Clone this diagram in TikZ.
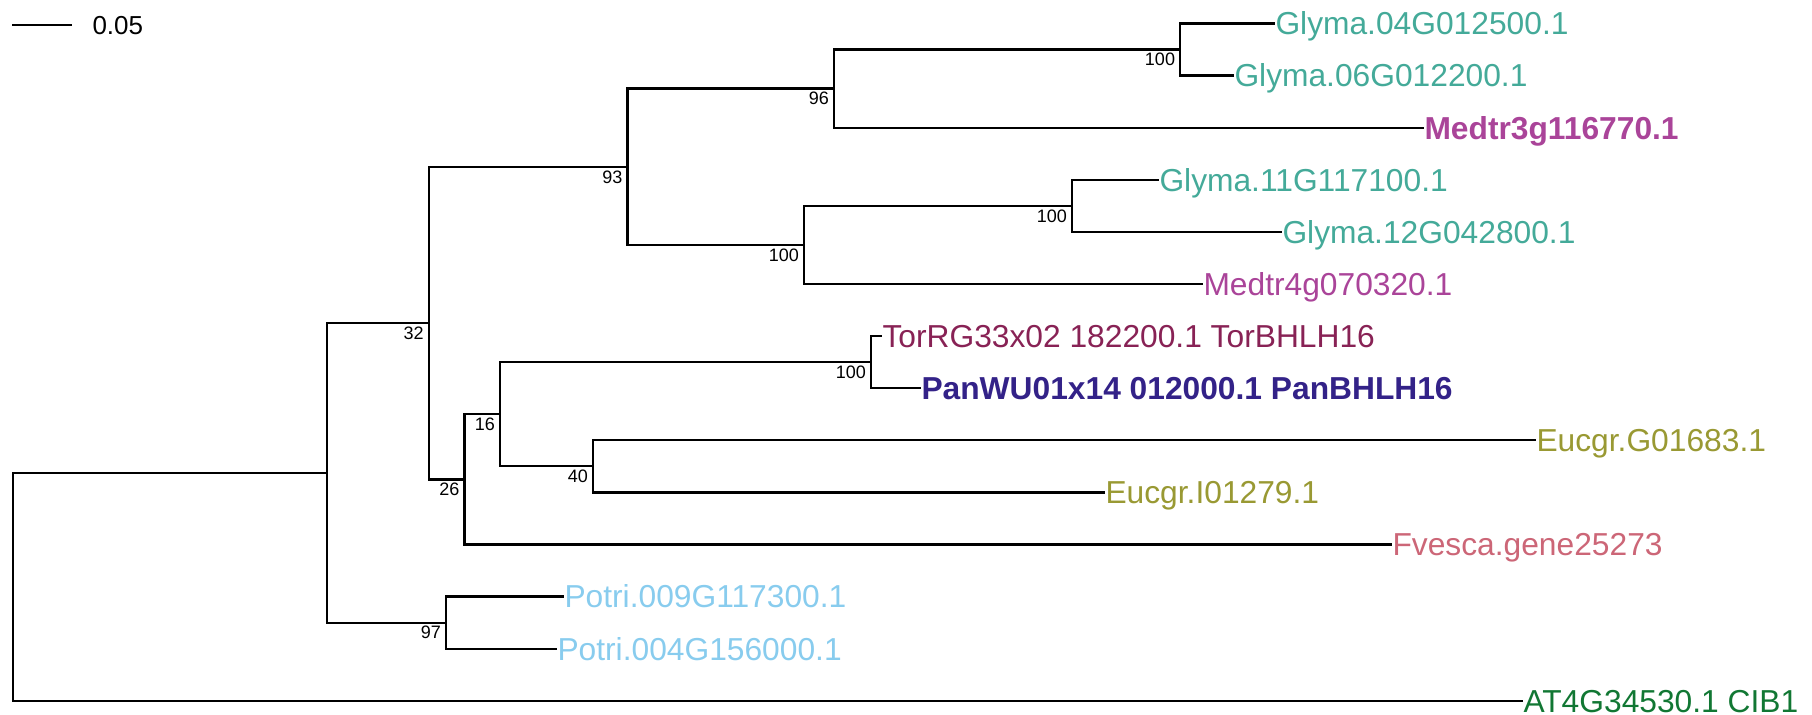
\documentclass[tikz,border=0pt]{standalone}
\usepackage{fontspec}
\setmainfont{Liberation Sans}
\definecolor{cGly}{HTML}{44AA99}
\definecolor{cMed}{HTML}{AA4499}
\definecolor{cTor}{HTML}{882255}
\definecolor{cPan}{HTML}{332288}
\definecolor{cEuc}{HTML}{999933}
\definecolor{cFve}{HTML}{CC6677}
\definecolor{cPot}{HTML}{88CCEE}
\definecolor{cAt}{HTML}{117733}
\begin{document}
\begin{tikzpicture}[x=0.4pt,y=-0.4pt,
  br/.style={line width=0.9pt, line join=miter},
  leaf/.style={anchor=west, inner sep=0pt, font=\fontsize{12.7}{14}\selectfont, text height=9.1pt, text depth=0pt},
  leafb/.style={leaf, font=\fontsize{12.7}{14}\selectfont\bfseries},
  bs/.style={anchor=north east, inner sep=0pt, font=\fontsize{7.2}{8}\selectfont, xshift=-1.8pt, yshift=-1.3pt},
  sc/.style={anchor=west, inner sep=0pt, font=\fontsize{10.4}{12}\selectfont, text height=7.45pt, text depth=0pt}
]
\useasboundingbox (0,0) rectangle (1812,714);
% scale bar
\coordinate (s0) at (12,25);
\coordinate (s1) at (72,25);
\draw[br] (s0) -- (s1);
\node[sc] (sl) at (92,25) {0.05};
% internal nodes
\coordinate (root) at (12.7,586.8);
\coordinate (nA) at (327,472.9);
\coordinate (n32) at (428.7,323.1);
\coordinate (n93) at (627.5,166.75);
\coordinate (n96) at (834,88.6);
\coordinate (n100a) at (1180,49.55);
\coordinate (n100b) at (804,244.9);
\coordinate (n100c) at (1072,205.85);
\coordinate (n26) at (464.5,479.4);
\coordinate (n16) at (500,414.25);
\coordinate (n100d) at (871,362.15);
\coordinate (n40) at (593,466.35);
\coordinate (n97) at (446,622.65);
% leaves
\node[leaf, text=cGly] (g04) at (1275,23.5) {Glyma.04G012500.1};
\node[leaf, text=cGly] (g06) at (1234,75.6) {Glyma.06G012200.1};
\node[leafb, text=cMed] (m3) at (1424,127.7) {Medtr3g116770.1};
\node[leaf, text=cGly] (g11) at (1159,179.8) {Glyma.11G117100.1};
\node[leaf, text=cGly] (g12) at (1282,231.9) {Glyma.12G042800.1};
\node[leaf, text=cMed] (m4) at (1203,284.0) {Medtr4g070320.1};
\node[leaf, text=cTor] (tor) at (882,336.1) {TorRG33x02 182200.1 TorBHLH16};
\node[leafb, text=cPan] (pan) at (921,388.2) {PanWU01x14 012000.1 PanBHLH16};
\node[leaf, text=cEuc] (eg) at (1536,440.3) {Eucgr.G01683.1};
\node[leaf, text=cEuc] (ei) at (1105,492.4) {Eucgr.I01279.1};
\node[leaf, text=cFve] (fv) at (1392,544.5) {Fvesca.gene25273};
\node[leaf, text=cPot] (p9) at (564,596.6) {Potri.009G117300.1};
\node[leaf, text=cPot] (p4) at (557,648.7) {Potri.004G156000.1};
\node[leaf, text=cAt] (at) at (1523,700.8) {AT4G34530.1 CIB1};
% branches
\draw[br] (root) |- (nA);
\draw[br] (root) |- (at.west);
\draw[br] (nA) |- (n32);
\draw[br] (nA) |- (n97);
\draw[br] (n32) |- (n93);
\draw[br] (n32) |- (n26);
\draw[br] (n93) |- (n96);
\draw[br] (n93) |- (n100b);
\draw[br] (n96) |- (n100a);
\draw[br] (n96) |- (m3.west);
\draw[br] (n100a) |- (g04.west);
\draw[br] (n100a) |- (g06.west);
\draw[br] (n100b) |- (n100c);
\draw[br] (n100b) |- (m4.west);
\draw[br] (n100c) |- (g11.west);
\draw[br] (n100c) |- (g12.west);
\draw[br] (n26) |- (n16);
\draw[br] (n26) |- (fv.west);
\draw[br] (n16) |- (n100d);
\draw[br] (n16) |- (n40);
\draw[br] (n100d) |- (tor.west);
\draw[br] (n100d) |- (pan.west);
\draw[br] (n40) |- (eg.west);
\draw[br] (n40) |- (ei.west);
\draw[br] (n97) |- (p9.west);
\draw[br] (n97) |- (p4.west);
% bootstrap values
\node[bs] (b32) at (n32) {32};
\node[bs] (b93) at (n93) {93};
\node[bs] (b96) at (n96) {96};
\node[bs] (b100a) at (n100a) {100};
\node[bs] (b100b) at (n100b) {100};
\node[bs] (b100c) at (n100c) {100};
\node[bs] (b26) at (n26) {26};
\node[bs] (b16) at (n16) {16};
\node[bs] (b100d) at (n100d) {100};
\node[bs] (b40) at (n40) {40};
\node[bs] (b97) at (n97) {97};
\end{tikzpicture}
\end{document}
